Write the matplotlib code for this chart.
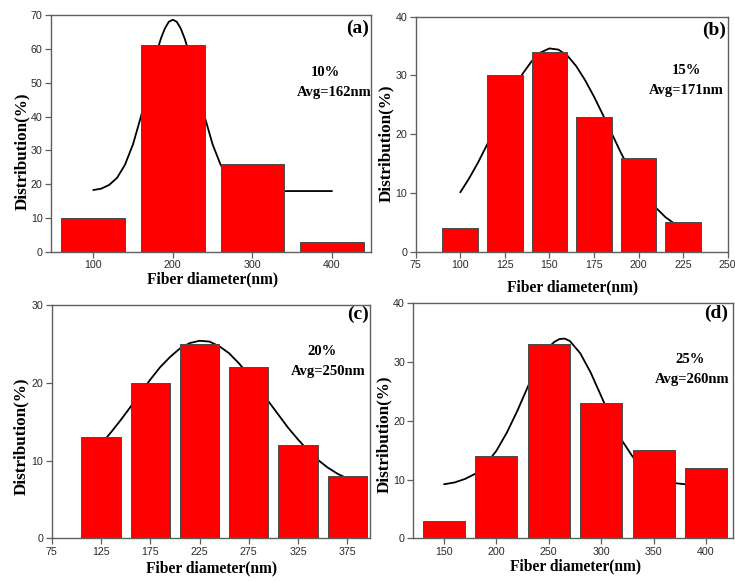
import matplotlib
matplotlib.use("Agg")
import matplotlib.pyplot as plt

plt.rcParams["font.family"] = "sans-serif"
plt.rcParams["font.sans-serif"] = ["Liberation Sans", "Arial", "DejaVu Sans"]

# ---------------- data ----------------
# (a) 10%
a_centers = [100, 200, 300, 400]
a_values = [10, 61, 26, 3]
a_fit_x = [100, 110, 120, 130, 140, 150, 160, 170, 175, 180, 185, 190, 195, 200,
           205, 210, 215, 220, 225, 230, 240, 250, 260, 270, 280, 290, 300, 320,
           340, 360, 380, 400]
a_fit_y = [18.3, 18.7, 19.8, 21.9, 25.8, 31.8, 40.0, 49.7, 54.5, 59.1, 63.0, 66.0,
           68.0, 68.6, 68.0, 66.0, 63.0, 59.1, 54.5, 49.7, 40.0, 31.8, 25.8, 21.9,
           19.8, 18.7, 18.3, 18.0, 18.0, 18.0, 18.0, 18.0]
a_xticks = [100, 200, 300, 400]
a_yticks = [0, 10, 20, 30, 40, 50, 60, 70]

# (b) 15%
b_centers = [100, 125, 150, 175, 200, 225]
b_values = [4, 30, 34, 23, 16, 5]
b_fit_x = [100, 105, 110, 115, 120, 125, 130, 135, 140, 145, 150, 155, 160, 165,
           170, 175, 180, 185, 190, 195, 200, 205, 210, 215, 220, 225]
b_fit_y = [10.1, 12.5, 15.2, 18.2, 21.3, 24.5, 27.6, 30.3, 32.4, 33.9, 34.6, 34.4,
           33.4, 31.6, 29.2, 26.4, 23.3, 20.1, 16.9, 14.0, 11.5, 9.2, 7.4, 5.9,
           4.8, 3.9]
b_xticks = [75, 100, 125, 150, 175, 200, 225, 250]
b_yticks = [0, 10, 20, 30, 40]

# (c) 20%
c_centers = [125, 175, 225, 275, 325, 375]
c_values = [13, 20, 25, 22, 12, 8]
c_fit_x = [125, 135, 145, 155, 165, 175, 185, 195, 205, 215, 225, 235, 245, 255,
           265, 275, 285, 295, 305, 315, 325, 335, 345, 355, 365, 375]
c_fit_y = [12.1, 13.6, 15.2, 16.9, 18.7, 20.4, 22.0, 23.3, 24.4, 25.1, 25.4, 25.3,
           24.7, 23.8, 22.5, 21.0, 19.4, 17.6, 15.9, 14.2, 12.7, 11.3, 10.1, 9.1,
           8.3, 7.7]
c_xticks = [75, 125, 175, 225, 275, 325, 375]
c_yticks = [0, 10, 20, 30]

# (d) 25%
d_centers = [150, 200, 250, 300, 350, 400]
d_values = [3, 14, 33, 23, 15, 12]
d_fit_x = [150, 160, 170, 180, 190, 200, 210, 220, 230, 240, 250, 255, 260, 265,
           270, 280, 290, 300, 310, 320, 330, 340, 350, 360, 370, 380, 390, 400]
d_fit_y = [9.2, 9.5, 10.1, 11.0, 12.6, 14.9, 18.0, 21.7, 25.8, 29.6, 32.5, 33.4,
           33.9, 34.0, 33.6, 31.5, 28.2, 24.2, 20.2, 16.6, 13.9, 11.9, 10.6, 9.8,
           9.4, 9.2, 9.1, 9.0]
d_xticks = [150, 200, 250, 300, 350, 400]
d_yticks = [0, 10, 20, 30, 40]

panel_tags = ["(a)", "(b)", "(c)", "(d)"]
panel_conc = ["10%", "15%", "20%", "25%"]
panel_avg = ["Avg=162nm", "Avg=171nm", "Avg=250nm", "Avg=260nm"]
x_label = "Fiber diameter(nm)"
y_label = "Distribution(%)"

# ---------------- layout / style ----------------
W, H = 735, 581
# left, right, top, bottom in pixels
boxes = [(51, 371, 15, 252), (415.7, 727.7, 16.7, 251.7),
         (51.7, 370, 305, 538.3), (413.3, 732.7, 303.3, 538.3)]
xlims = [(47, 449), (75, 250), (75, 398), (120.7, 425.5)]
ylims = [(0, 70), (0, 40), (0, 30), (0, 40)]
bar_widths = [80, 20, 40, 40]
tag_pos = [(0.995, 0.945), (0.995, 0.943), (0.995, 0.962), (0.986, 0.957)]
conc_pos = [(0.856, 0.759), (0.868, 0.773), (0.848, 0.800), (0.866, 0.759)]
avg_pos = [(0.884, 0.675), (0.868, 0.688), (0.868, 0.714), (0.873, 0.674)]
ylab_pos = [(-0.0916, 0.423), (-0.096, 0.461), (-0.097, 0.439), (-0.093, 0.443)]
xlab_pos = [(0.505, -0.114), (0.503, -0.152), (0.502, -0.127), (0.509, -0.121)]

serif = "Liberation Serif"
sans = "Liberation Sans"
spine_col = "#5f5f5f"

centers_all = [a_centers, b_centers, c_centers, d_centers]
values_all = [a_values, b_values, c_values, d_values]
fitx_all = [a_fit_x, b_fit_x, c_fit_x, d_fit_x]
fity_all = [a_fit_y, b_fit_y, c_fit_y, d_fit_y]
xticks_all = [a_xticks, b_xticks, c_xticks, d_xticks]
yticks_all = [a_yticks, b_yticks, c_yticks, d_yticks]

fig = plt.figure(figsize=(W / 100, H / 100), dpi=100)
fig.patch.set_facecolor("white")

for i in range(4):
    l, r, t, b = boxes[i]
    ax = fig.add_axes([l / W, 1 - b / H, (r - l) / W, (b - t) / H])
    ax.plot(fitx_all[i], fity_all[i], color="black", lw=1.3, zorder=1,
            solid_capstyle="round")
    ax.bar(centers_all[i], values_all[i], width=bar_widths[i], color="#ff0000",
           edgecolor="#4a4a4a", linewidth=0.7, zorder=2)
    ax.set_xlim(*xlims[i])
    ax.set_ylim(*ylims[i])
    ax.set_xticks(xticks_all[i])
    ax.set_xticklabels([str(v) for v in xticks_all[i]], fontfamily=sans,
                       fontsize=7.7, color="#2a2a2a")
    ax.set_yticks(yticks_all[i])
    ax.set_yticklabels([str(v) for v in yticks_all[i]], fontfamily=sans,
                       fontsize=7.7, color="#2a2a2a")
    for s in ax.spines.values():
        s.set_color(spine_col)
        s.set_linewidth(1.0)
        s.set_zorder(5)
    ax.tick_params(axis="both", direction="out", length=4, width=0.9,
                   color=spine_col, pad=2)
    ax.tick_params(top=False, right=False)

    ax.set_xlabel(x_label, fontfamily=serif, fontweight="bold", fontsize=11.2,
                  va="center")
    ax.xaxis.set_label_coords(*xlab_pos[i])
    ax.set_ylabel(y_label, fontfamily=serif, fontweight="bold", fontsize=12.3,
                  va="center")
    ax.yaxis.set_label_coords(*ylab_pos[i])

    ax.text(*tag_pos[i], panel_tags[i], transform=ax.transAxes, ha="right",
            va="center", fontfamily=serif, fontweight="bold", fontsize=14,
            zorder=6)
    ax.text(*conc_pos[i], panel_conc[i], transform=ax.transAxes, ha="center",
            va="center", fontfamily=serif, fontweight="bold", fontsize=10.5,
            zorder=6)
    ax.text(*avg_pos[i], panel_avg[i], transform=ax.transAxes, ha="center",
            va="center", fontfamily=serif, fontweight="bold", fontsize=10.5,
            zorder=6)

fig.savefig("out.png", dpi=100, facecolor="white")
